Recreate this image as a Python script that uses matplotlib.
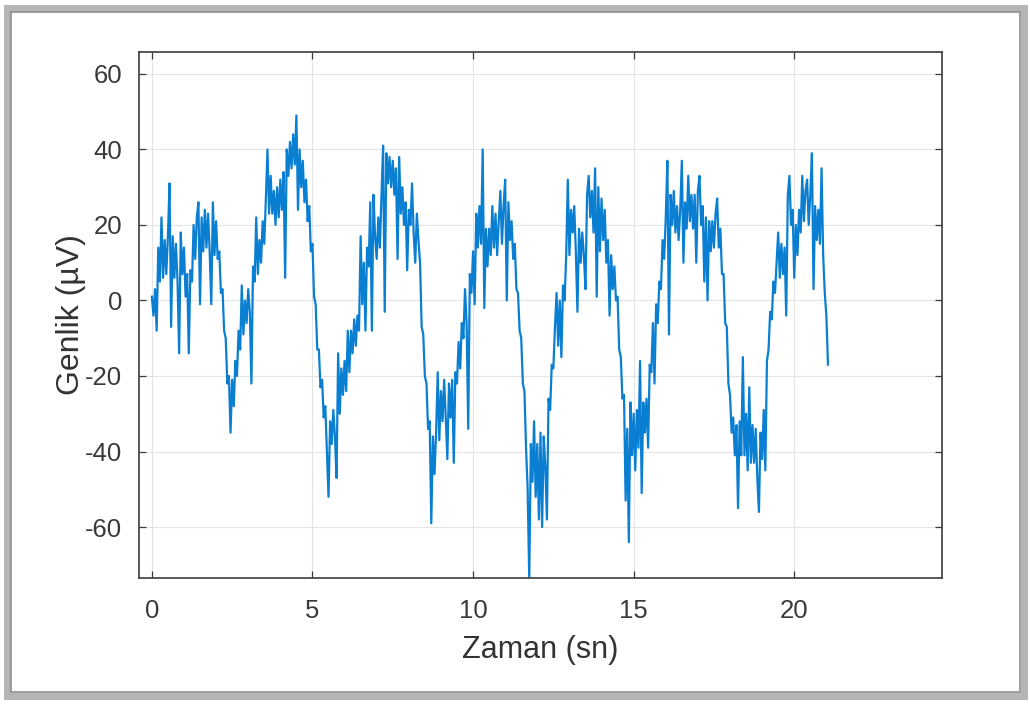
import numpy as np
import matplotlib
matplotlib.use("Agg")
import matplotlib.pyplot as plt
from matplotlib.patches import Rectangle

# Recorded signal, one row per second, sampled every 0.05 s
sample_period = 0.05
genlik = [
    1, -4, 3, -8, 14, 5, 22, 6, 16, 7, 17, 31, -7, 17, 6, 15, 5, -14, 18, 7,
    14, 1, 7, -14, 8, 5, 20, 11, 22, 26, -1, 22, 13, 24, 14, 23, 13, -1, 26, 12,
    21, 11, 13, 2, 3, -8, -10, -22, -20, -35, -21, -28, -16, -20, -8, -13, 4, -9, 0, -6,
    3, -3, -22, 9, 5, 22, 7, 16, 10, 21, 15, 27, 40, 23, 33, 23, 29, 20, 30, 22,
    32, 24, 34, 6, 40, 33, 42, 35, 44, 36, 49, 24, 40, 30, 37, 26, 32, 21, 25, 13,
    15, 1, -1, -13, -13, -23, -21, -31, -28, -40, -52, -32, -38, -29, -36, -47, -14, -30, -18, -25,
    -16, -24, -8, -19, -8, -14, -5, -12, -4, -8, 17, -1, 10, -8, 14, 9, 26, -8, 28, 17,
    11, 22, 14, 28, 41, -3, 39, 31, 38, 30, 37, 28, 35, 11, 38, 23, 30, 20, 26, 8,
    24, 20, 31, 18, 10, 23, 16, 10, -7, -9, -20, -22, -34, -32, -59, -36, -46, -35, -19, -37,
    -24, -32, -21, -31, -42, -22, -31, -21, -43, -19, -22, -11, -18, -6, -10, 3, -6, -34, 7, 2,
    13, -1, 23, 14, 25, 15, 40, -2, 19, 9, 19, 12, 25, 14, 23, 12, 21, 29, 15, 25,
    32, 0, 26, 16, 21, 11, 15, 3, 2, -8, -10, -22, -24, -39, -50, -74, -38, -48, -32, -52,
    -38, -58, -35, -60, -36, -44, -58, -26, -29, -17, -18, -7, 2, -12, 0, -15, 4, 0, 12, 32,
    12, 24, 18, 25, 13, -3, 19, 10, 18, 12, 3, 28, 33, 22, 29, 18, 35, 1, 30, 13,
    27, 16, 24, 10, 16, -4, 12, 3, 9, 0, 1, -13, -15, -26, -25, -53, -34, -64, -27, -41,
    -30, -45, -29, -39, -16, -51, -27, -35, -26, -39, -17, -19, -6, -22, -1, -6, 5, 3, 16, 11,
    22, 37, -9, 28, 20, 29, 18, 25, 16, 24, 37, 10, 26, 19, 33, 21, 28, 19, 28, 10,
    29, 33, 20, 25, 5, 22, 0, 21, 13, 21, 14, 23, 27, 14, 19, 7, 7, -6, -7, -22,
    -25, -35, -31, -41, -33, -55, -32, -41, -15, -41, -30, -45, -23, -43, -33, -43, -34, -47, -56, -35,
    -42, -29, -45, -16, -13, -3, -5, 5, 2, 10, 18, 6, 15, 7, 14, -4, 28, 33, 20, 24,
    6, 20, 12, 24, 18, 33, 21, 29, 32, 20, 28, 39, 3, 25, 16, 24, 15, 35, 12, 2,
    -4, -17,
]
x_ticks = [0, 5, 10, 15, 20]
y_ticks = [-60, -40, -20, 0, 20, 40, 60]
x_label = "Zaman (sn)"
y_label = "Genlik (µV)"

zaman = np.arange(len(genlik)) * sample_period

plt.rcParams["font.family"] = ["Liberation Sans", "DejaVu Sans"]
plt.rcParams["axes.unicode_minus"] = False

W, H = 1030, 704
fig = plt.figure(figsize=(W / 100, H / 100), dpi=100)
fig.patch.set_facecolor("white")

# Window-style bevelled frame around the figure
fig.patches.append(Rectangle((7 / W, 8 / H), 1017 / W, 688 / H, transform=fig.transFigure,
                             fill=False, edgecolor="#b4b4b4", linewidth=5.0))
fig.patches.append(Rectangle((11 / W, 12 / H), 1009 / W, 680 / H, transform=fig.transFigure,
                             fill=False, edgecolor="#8c8c8c", linewidth=1.2))

ax = fig.add_axes([139 / W, 1 - 578 / H, (942 - 139) / W, (578 - 52) / H])
ax.plot(zaman, genlik, color="#0a7fd2", linewidth=1.6)

ax.set_xlim(-0.4, 24.6)
ax.set_ylim(-73.5, 65.8)
ax.set_xticks(x_ticks)
ax.set_yticks(y_ticks)

ax.grid(True, color="#e4e4e4", linewidth=0.8)
ax.set_axisbelow(True)
for s in ax.spines.values():
    s.set_color("#3c3c3c")
    s.set_linewidth(1.2)
ax.tick_params(direction="in", top=True, right=True, length=5, width=0.9,
               color="#3c3c3c", labelsize=18.5, labelcolor="#3a3a3a")
ax.tick_params(axis="x", pad=15)
ax.tick_params(axis="y", pad=12)

ax.set_xlabel(x_label, fontsize=22, color="#333333", labelpad=9)
ax.set_ylabel(y_label, fontsize=23, color="#333333", labelpad=-1)

fig.savefig("out.png", dpi=100, facecolor="white")
